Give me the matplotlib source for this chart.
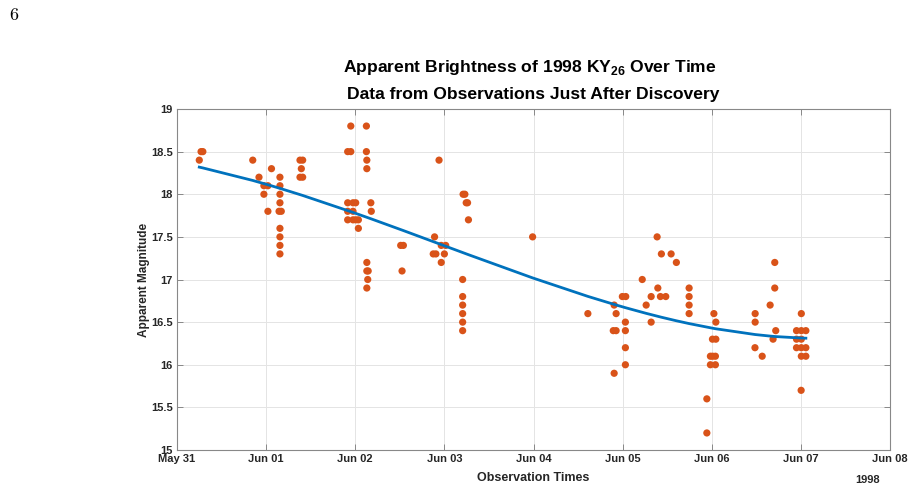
import numpy as np
import matplotlib
matplotlib.use('Agg')
from matplotlib import pyplot as plt
import matplotlib.dates as mdates
from datetime import datetime, timedelta

plt.rcParams['font.family'] = ['Liberation Sans', 'DejaVu Sans']
plt.rcParams['mathtext.fontset'] = 'custom'
plt.rcParams['mathtext.bf'] = 'Liberation Sans:bold'
plt.rcParams['mathtext.rm'] = 'Liberation Sans:bold'

# observation times, in days after 1998-05-31 00:00
obs_days = [
    0.25, 0.27, 0.29,
    0.85, 0.92, 0.975, 1.02, 0.975, 1.02, 1.06,
    1.155, 1.155, 1.155, 1.155, 1.145, 1.17, 1.155, 1.155, 1.155, 1.155,
    1.38, 1.41, 1.395, 1.38, 1.41,
    1.95, 1.915, 1.95, 1.915, 1.975, 2.005, 1.915, 1.975,
    1.915, 1.975, 2.005, 2.035, 2.035,
    2.125, 2.125, 2.13, 2.13, 2.175, 2.18,
    2.13, 2.13, 2.145, 2.14, 2.13,
    2.51, 2.54, 2.525,
    2.89, 2.875, 2.905, 2.965, 2.965, 3.015, 3.0, 2.94,
    3.21, 3.23, 3.245, 3.26, 3.27,
    3.205, 3.205, 3.205, 3.205, 3.205, 3.205,
    3.99, 4.61,
    4.905, 4.927, 4.895, 4.927, 4.905,
    4.997, 5.035, 5.031, 5.031, 5.031, 5.031,
    5.22, 5.264, 5.32, 5.32, 5.387, 5.435, 5.544, 5.603,
    5.395, 5.424, 5.484,
    5.746, 5.746, 5.746, 5.746,
    5.945, 5.945,
    6.024, 6.046, 6.008, 6.046, 5.985, 6.01, 6.041, 5.985, 6.041,
    6.487, 6.487, 6.485, 6.566, 6.655, 6.707, 6.707, 6.718, 6.688,
    7.005, 6.951, 7.005, 7.056, 6.951, 7.005,
    6.951, 7.005, 7.056, 7.005, 7.056, 7.003,
]
obs_mag = [
    18.4, 18.5, 18.5,
    18.4, 18.2, 18.1, 18.1, 18.0, 17.8, 18.3,
    18.2, 18.1, 18.0, 17.9, 17.8, 17.8, 17.6, 17.5, 17.4, 17.3,
    18.4, 18.4, 18.3, 18.2, 18.2,
    18.8, 18.5, 18.5, 17.9, 17.9, 17.9, 17.8, 17.8,
    17.7, 17.7, 17.7, 17.7, 17.6,
    18.8, 18.5, 18.4, 18.3, 17.9, 17.8,
    17.2, 17.1, 17.1, 17.0, 16.9,
    17.4, 17.4, 17.1,
    17.5, 17.3, 17.3, 17.2, 17.4, 17.4, 17.3, 18.4,
    18.0, 18.0, 17.9, 17.9, 17.7,
    17.0, 16.8, 16.7, 16.6, 16.5, 16.4,
    17.5, 16.6,
    16.7, 16.6, 16.4, 16.4, 15.9,
    16.8, 16.8, 16.5, 16.4, 16.2, 16.0,
    17.0, 16.7, 16.8, 16.5, 17.5, 17.3, 17.3, 17.2,
    16.9, 16.8, 16.8,
    16.9, 16.8, 16.7, 16.6,
    15.6, 15.2,
    16.6, 16.5, 16.3, 16.3, 16.1, 16.1, 16.1, 16.0, 16.0,
    16.6, 16.5, 16.2, 16.1, 16.7, 17.2, 16.9, 16.4, 16.3,
    16.6, 16.4, 16.4, 16.4, 16.3, 16.3,
    16.2, 16.2, 16.2, 16.1, 16.1, 15.7,
]
y_ticks = [15, 15.5, 16, 16.5, 17, 17.5, 18, 18.5, 19]
y_labels = ['15', '15.5', '16', '16.5', '17', '17.5', '18', '18.5', '19']

start = datetime(1998, 5, 31)
obs_t = [start + timedelta(days=d) for d in obs_days]

# cubic fit of the data
coef = np.polyfit(obs_days, obs_mag, 3)
fit_days = np.sort(np.array(obs_days))
fit_t = [start + timedelta(days=float(d)) for d in fit_days]
fit_mag = np.polyval(coef, fit_days)

fig = plt.figure(figsize=(9.14, 4.88), dpi=100)
ax = fig.add_axes([177/914, 1 - 450/488, (890-177)/914, (450-109)/488])

ax.plot(fit_t, fit_mag, color='#0072BD', linewidth=2, zorder=3)
ax.scatter(obs_t, obs_mag, s=27, color='#D95319', edgecolors='none', zorder=2)

ax.set_xlim(start, start + timedelta(days=8))
ax.set_ylim(15, 19)
ax.set_yticks(y_ticks)
ax.set_yticklabels(y_labels)
ax.xaxis.set_major_locator(mdates.DayLocator())
ax.xaxis.set_major_formatter(mdates.DateFormatter('%b %d'))

ax.grid(True, color='#e4e4e4', linewidth=0.7)
ax.set_axisbelow(True)
for s in ax.spines.values():
    s.set_color('#888888')
    s.set_linewidth(0.8)
ax.tick_params(direction='in', top=True, right=True, length=4, width=0.7,
               color='#888888', labelsize=8, labelcolor='#262626', pad=3)
for lab in ax.get_xticklabels() + ax.get_yticklabels():
    lab.set_fontweight('bold')

ax.set_xlabel('Observation Times', fontsize=9, fontweight='bold', color='#262626', labelpad=5.5)
ax.set_ylabel('Apparent Magnitude', fontsize=8.5, fontweight='bold', color='#262626', labelpad=0.5)
ax.text(0.969, -0.088, '1998', transform=ax.transAxes, ha='center', va='center',
        fontsize=8, fontweight='bold', color='#262626')

fig.text(530/914, 1 - 67/488, r'Apparent Brightness of 1998 KY$_{\mathbf{26}}$ Over Time',
         ha='center', va='center', fontsize=12.6, fontweight='bold')
fig.text(533/914, 1 - 95/488, 'Data from Observations Just After Discovery',
         ha='center', va='center', fontsize=12.6, fontweight='bold')
fig.text(14/914, 1 - 15/488, '6', ha='center', va='center', fontsize=13, family='cmr10')

fig.savefig('out.png', dpi=100)
